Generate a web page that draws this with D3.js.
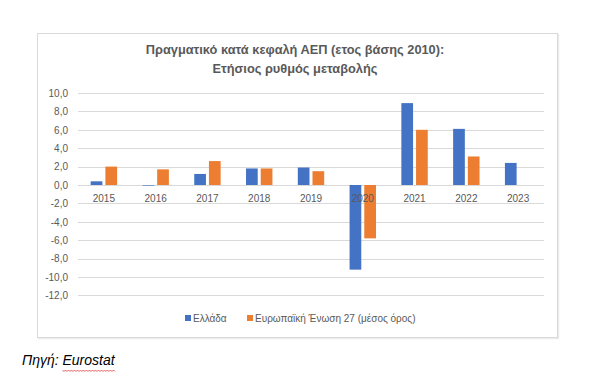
<!DOCTYPE html>
<html><head><meta charset="utf-8">
<script src="https://cdn.jsdelivr.net/npm/d3@7"></script>
<style>body{margin:0;background:#fff;}svg{display:block;font-family:"Liberation Sans",Arial,sans-serif;}</style>
</head><body><svg id="c" width="589" height="389"></svg>
<script>
const years = ["2015","2016","2017","2018","2019","2020","2021","2022","2023"];
const greece = [0.4, -0.05, 1.2, 1.8, 1.9, -9.2, 8.9, 6.1, 2.4];
const eu27 = [2.0, 1.7, 2.6, 1.8, 1.5, -5.8, 6.0, 3.1, null];
const yTicks = [10, 8, 6, 4, 2, 0, -2, -4, -6, -8, -10, -12];
const seriesNames = ["Ελλάδα", "Ευρωπαϊκή Ένωση 27 (μέσος όρος)"];
const colors = ["#4472C4", "#ED7D31"];
const titleLines = ["Πραγματικό κατά κεφαλή ΑΕΠ (ετος βάσης 2010):", "Ετήσιος ρυθμός μεταβολής"];

const svg = d3.select("#c");
// frame with faint shadow
svg.append("rect").attr("x",38.5).attr("y",34.5).attr("width",520).attr("height",304)
  .attr("fill","none").attr("stroke","#ececec").attr("stroke-width",1.5);
svg.append("rect").attr("x",37.5).attr("y",33.5).attr("width",520).attr("height",304)
  .attr("fill","#fff").attr("stroke","#d9d9d9").attr("stroke-width",1);

const x = d3.scaleBand().domain(years).range([78,544]);
const y = d3.scaleLinear().domain([-12,10]).range([295.4,93]);

// gridlines
svg.append("g").selectAll("line").data(yTicks).join("line")
  .attr("x1",78).attr("x2",544).attr("y1",d=>Math.round(y(d))+0.5).attr("y2",d=>Math.round(y(d))+0.5)
  .attr("stroke","#d9d9d9").attr("stroke-width",1);

// y axis labels
const yAxis = d3.axisLeft(y).tickValues(yTicks).tickSize(0).tickPadding(0)
  .tickFormat(d=>d3.format(".1f")(d).replace(".",",").replace("−","-"));
const ga = svg.append("g").attr("transform","translate(68,0)").call(yAxis);
ga.select(".domain").remove();
ga.selectAll("text").attr("fill","#595959").attr("font-size","10px");

// bars
const bw = 11.7, gap = 3;
const series = [greece, eu27];
series.forEach((vals,si)=>{
  svg.append("g").selectAll("rect").data(years.map((yr,i)=>({yr,v:vals[i]})).filter(d=>d.v!=null)).join("rect")
    .attr("x",d=>x(d.yr)+x.bandwidth()/2 + (si===0 ? -bw-gap/2 : gap/2))
    .attr("width",bw)
    .attr("y",d=>y(Math.max(0,d.v)))
    .attr("height",d=>Math.max(0.6,Math.abs(y(d.v)-y(0))))
    .attr("fill",colors[si]);
});

// category labels
svg.append("g").selectAll("text").data(years).join("text")
  .attr("x",d=>x(d)+x.bandwidth()/2).attr("y",202).attr("text-anchor","middle")
  .attr("fill","#595959").attr("font-size","10px").text(d=>d);

// title
svg.append("g").selectAll("text").data(titleLines).join("text")
  .attr("x",295).attr("y",(d,i)=>54+i*19).attr("text-anchor","middle")
  .attr("fill","#595959").attr("font-size","12.8px").attr("font-weight","bold").text(d=>d);

// legend
const legX = [185, 247];
seriesNames.forEach((n,i)=>{
  svg.append("rect").attr("x",legX[i]).attr("y",315).attr("width",6).attr("height",6).attr("fill",colors[i]);
  svg.append("text").attr("x",legX[i]+8).attr("y",322).attr("fill","#595959").attr("font-size","10px").text(n);
});

// source
const src = svg.append("text").attr("x",22).attr("y",365).attr("font-size","14px").attr("font-style","italic").attr("fill","#000");
src.append("tspan").text("Πηγή: ");
const eu = src.append("tspan").text("Eurostat");
// spellcheck wavy underline
const tl = src.node().getComputedTextLength();
const startX = 22 + tl - eu.node().getComputedTextLength();
let p = "M"+startX+",370";
for (let xx=startX, k=0; xx<22+tl; xx+=1.5,k++) p += " L"+(xx+1.5)+","+(k%2?370:371.5);
svg.append("path").attr("d",p).attr("fill","none").attr("stroke","#e02020").attr("stroke-width",0.7);
</script></body></html>
